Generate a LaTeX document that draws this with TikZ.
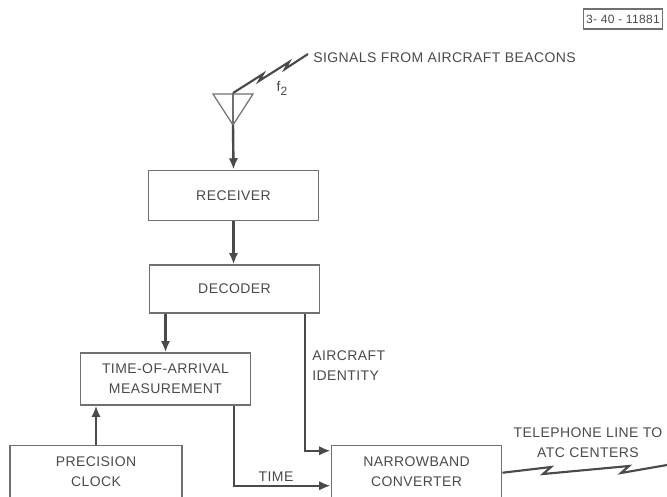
\documentclass[tikz,border=0pt]{standalone}
\usepackage{fontspec}
\usepackage{tikz}
\usepackage{xcolor}
\usetikzlibrary{arrows.meta,positioning,calc}
\setsansfont{Liberation Sans}[LetterSpace=3]
\definecolor{ink}{HTML}{4A4A4A}
\definecolor{boxline}{HTML}{707070}
\tikzset{
  blockbox/.style={
    draw=boxline,
    line width=0.9pt,
    align=center,
    inner sep=3pt,
    minimum width=128pt,
    minimum height=38pt,
    text=ink,
    font=\sffamily\fontsize{10.5}{15}\selectfont
  },
  sigarrow/.style={-{Latex[length=8.5pt,width=7pt]}, line width=1.8pt, draw=ink},
  radioline/.style={line width=1.6pt, draw=ink, line join=miter},
  tag/.style={text=ink, inner sep=0pt, font=\sffamily\fontsize{10.5}{15}\selectfont}
}

\begin{document}
\begin{tikzpicture}[x=0.75pt, y=-0.75pt]
\useasboundingbox (0,0) rectangle (667,496);

% drawing number
\node[draw=boxline, line width=0.8pt, text=ink, minimum width=59pt, minimum height=15pt,
      inner sep=1pt, font=\sffamily\fontsize{9}{10}\selectfont] (drw) at (623,19) {3- 40 - 11881};

% blocks
\node[blockbox] (receiver) at (233.5,195.5) {RECEIVER};
\node[blockbox, minimum width=127pt, minimum height=36pt] (decoder) at (234.5,289) {DECODER};
\node[blockbox, minimum width=127pt, minimum height=39pt] (toa) at (165.5,379) {TIME-OF-ARRIVAL\\MEASUREMENT};
\node[blockbox, minimum width=129pt, minimum height=40pt] (clock) at (96,472) {PRECISION\\CLOCK};
\node[blockbox, minimum width=128pt, minimum height=40pt] (nbc) at (416.5,472) {NARROWBAND\\CONVERTER};

% antenna
\coordinate (ant) at (233,93);
\coordinate (apex) at (233,125);
\draw[boxline, line width=0.9pt] (213,94) -- (253,94) -- (apex) -- cycle;
\draw[boxline, line width=0.9pt] (ant) -- (apex);
\draw[sigarrow] (apex) -- (receiver.north);

% incoming beacon signals
\coordinate (sigend) at (308,54);
\draw[radioline] (ant) -- (263,74) -- (259,81) -- (289,62) -- (285,69) -- (sigend);
\node[tag, anchor=west] (sig) at (313,58) {SIGNALS FROM AIRCRAFT BEACONS};
\node[tag] (freq) at (282,88) {f\raisebox{-3pt}{\fontsize{9}{10}\selectfont 2}};

% signal flow
\draw[sigarrow] (receiver.south) -- (receiver.south |- decoder.north);
\draw[sigarrow] (toa.north |- decoder.south) -- (toa.north);
\draw[sigarrow] (clock.north) -- (clock.north |- toa.south);
\draw[sigarrow] ($(decoder.south east)+(-15,0)$) |- ($(nbc.north west)+(0,6)$);
\draw[sigarrow] ($(toa.south east)+(-17,0)$) |- ($(nbc.north west)+(0,41)$);

\node[tag, anchor=north west, align=left] (ident) at (312,350) {AIRCRAFT\\IDENTITY};
\node[tag] (time) at (276,477) {TIME};

% telephone line out
\coordinate (telend) at (667,465);
\draw[radioline] ($(nbc.north east)+(0,28)$) -- (551,467) -- (543,474) -- (629,466) -- (621,473) -- (telend);
\node[tag, align=center] (tel) at (588,443) {TELEPHONE LINE TO\\ATC CENTERS};
\end{tikzpicture}
\end{document}
